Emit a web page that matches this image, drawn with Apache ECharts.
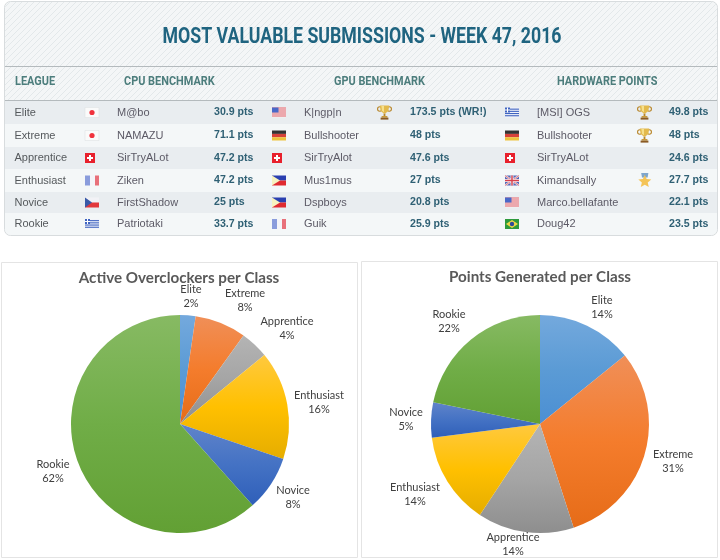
<!DOCTYPE html>
<html>
<head>
<meta charset="utf-8">
<title>Most Valuable Submissions</title>
<script src="https://cdn.jsdelivr.net/npm/echarts@6/dist/echarts.min.js"></script>
<style>
  html, body { margin: 0; padding: 0; background: #fff; }
  #chart { width: 720px; height: 560px; }
</style>
</head>
<body>
<div id="chart"></div>
<script>
// table content
const leagues = ['Elite', 'Extreme', 'Apprentice', 'Enthusiast', 'Novice', 'Rookie'];
const cpuFlags = ['jp', 'jp', 'ch', 'fr', 'cz', 'gr'];
const cpuNames = ['M@bo', 'NAMAZU', 'SirTryALot', 'Ziken', 'FirstShadow', 'Patriotaki'];
const cpuPts = ['30.9 pts', '71.1 pts', '47.2 pts', '47.2 pts', '25 pts', '33.7 pts'];
const gpuFlags = ['us', 'de', 'ch', 'ph', 'ph', 'fr'];
const gpuNames = ['K|ngp|n', 'Bullshooter', 'SirTryAlot', 'Mus1mus', 'Dspboys', 'Guik'];
const gpuAwards = ['cup', '', '', '', '', ''];
const gpuPts = ['173.5 pts (WR!)', '48 pts', '47.6 pts', '27 pts', '20.8 pts', '25.9 pts'];
const hwFlags = ['gr', 'de', 'ch', 'gb', 'us', 'br'];
const hwNames = ['[MSI] OGS', 'Bullshooter', 'SirTryALot', 'Kimandsally', 'Marco.bellafante', 'Doug42'];
const hwAwards = ['cup', 'cup', '', 'medal', '', ''];
const hwPts = ['49.8 pts', '48 pts', '24.6 pts', '27.7 pts', '22.1 pts', '23.5 pts'];

// pie values
const classes = ['Elite', 'Extreme', 'Apprentice', 'Enthusiast', 'Novice', 'Rookie'];
const activeShare = [2.3, 7.6, 4.2, 16.1, 8.2, 61.6];
const pointsShare = [14.2, 30.8, 14.3, 13.7, 5.2, 21.8];

// slice gradients, top to bottom
const sliceColors = [
  ['#74a9dd', '#5b9bd5', '#4b8fd3'],
  ['#f08f58', '#f47c2c', '#e66c18'],
  ['#b4b4b4', '#a5a5a5', '#8e8e8e'],
  ['#ffc93f', '#ffc000', '#e5ad00'],
  ['#6084ca', '#4472c4', '#2f5fb9'],
  ['#87ba63', '#70ad47', '#62a034']
];

// label anchors
const activeLabelPos = [[191, 296], [245, 300], [287, 328], [319, 402], [293, 497], [53, 471]];
const pointsLabelPos = [[602, 307], [673, 461], [513, 544], [415, 494], [406, 419], [449, 321]];

const rowTops = [101, 124, 147, 169, 192, 213, 235];
const rowFills = ['#e9edf0', '#f4f7f8', '#e9edf0', '#f4f7f8', '#e9edf0', '#f4f7f8'];
const bodyFont = '"Liberation Sans", Arial, sans-serif';
const headFont = 'Roboto, sans-serif';

function hatchPattern() {
  const c = document.createElement('canvas');
  c.width = 6;
  c.height = 6;
  const ctx = c.getContext('2d');
  ctx.fillStyle = '#f4f6f7';
  ctx.fillRect(0, 0, 6, 6);
  ctx.strokeStyle = '#e3e8ea';
  ctx.lineWidth = 1;
  ctx.beginPath();
  ctx.moveTo(-1, 1); ctx.lineTo(1, -1);
  ctx.moveTo(-1, 7); ctx.lineTo(7, -1);
  ctx.moveTo(5, 7); ctx.lineTo(7, 5);
  ctx.stroke();
  return { image: c, repeat: 'repeat' };
}

const rect = (x, y, width, height, fill) => ({
  type: 'rect', shape: { x, y, width, height }, style: { fill }
});
const poly = (points, fill) => ({ type: 'polygon', shape: { points }, style: { fill } });
const dot = (cx, cy, r, fill) => ({ type: 'circle', shape: { cx, cy, r }, style: { fill } });
const bar = (x1, y1, x2, y2, stroke, lineWidth) => ({
  type: 'line', shape: { x1, y1, x2, y2 }, style: { stroke, lineWidth }
});

// little 14x10 flags
function flagParts(code) {
  switch (code) {
    case 'jp':
      return [
        { type: 'rect', shape: { x: 0, y: 0, width: 14, height: 10 }, style: { fill: '#fafafa', stroke: '#dfe2e4', lineWidth: 0.6 } },
        dot(7, 5, 2.6, '#f0323c')
      ];
    case 'ch':
      return [rect(0, 0, 10, 10, '#e8202c'), rect(4, 2, 2, 6, '#fff'), rect(2, 4, 6, 2, '#fff')];
    case 'fr':
      return [rect(0, 0, 5, 10, '#8a9cdc'), rect(5, 0, 5, 10, '#f4f4f8'), rect(10, 0, 4, 10, '#e8707a')];
    case 'de':
      return [rect(0, 0, 14, 3.4, '#333'), rect(0, 3.4, 14, 3.3, '#d6423a'), rect(0, 6.7, 14, 3.3, '#eec23c')];
    case 'cz':
      return [rect(0, 0, 14, 5, '#f2f2f6'), rect(0, 5, 14, 5, '#e2383c'), poly([[0, 0], [7, 5], [0, 10]], '#3a5aa8')];
    case 'ph':
      return [rect(0, 0, 14, 5, '#2a3fb0'), rect(0, 5, 14, 5, '#e02a30'), poly([[0, 0], [8, 5], [0, 10]], '#f6f2c0')];
    case 'gr': {
      const parts = [rect(0, 0, 14, 10, '#f2f4fa')];
      [1.1, 3.3, 5.5, 7.7].forEach(y => parts.push(rect(0, y, 14, 1.1, '#3f63c0')));
      parts.push(rect(0, 0, 5, 5, '#3f63c0'), rect(2, 0, 1, 5, '#fff'), rect(0, 2, 5, 1, '#fff'));
      return parts;
    }
    case 'us': {
      const parts = [rect(0, 0, 14, 10, '#f4f0f0')];
      [0, 2, 4, 6, 8].forEach(y => parts.push(rect(0, y, 14, 1, '#e4606a')));
      parts.push(rect(0, 0, 6.5, 5, '#4a68c8'));
      return parts;
    }
    case 'gb':
      return [
        rect(0, 0, 14, 10, '#5468b8'),
        bar(0, 0, 14, 10, '#f2e8ec', 2), bar(14, 0, 0, 10, '#f2e8ec', 2),
        bar(0, 0, 14, 10, '#d8505c', 0.7), bar(14, 0, 0, 10, '#d8505c', 0.7),
        rect(5.5, 0, 3, 10, '#f2e8ec'), rect(0, 3.5, 14, 3, '#f2e8ec'),
        rect(6.3, 0, 1.4, 10, '#d8404c'), rect(0, 4.3, 14, 1.4, '#d8404c')
      ];
    case 'br':
      return [rect(0, 0, 14, 10, '#2e9a3c'), poly([[7, 1], [13, 5], [7, 9], [1, 5]], '#f0d848'), dot(7, 5, 2.2, '#2f4c98')];
  }
  return [];
}

function flag(code, x, rowMid) {
  return { type: 'group', x, y: rowMid - 5, children: flagParts(code) };
}

function cup(x, rowMid) {
  return {
    type: 'group', x, y: rowMid - 7.5,
    children: [
      { type: 'ring', shape: { cx: 2.8, cy: 4, r: 2.8, r0: 1.7 }, style: { fill: '#b8862a' } },
      { type: 'ring', shape: { cx: 12.2, cy: 4, r: 2.8, r0: 1.7 }, style: { fill: '#b8862a' } },
      poly([[2.8, 0.4], [12.2, 0.4], [11.4, 5.8], [8.4, 8.6], [6.6, 8.6], [3.6, 5.8]], '#e3ba4c'),
      poly([[4.4, 1], [7, 1], [7, 7.4], [5, 5.4]], '#f6e08c'),
      rect(6.6, 8.6, 1.8, 2.4, '#b8862a'),
      rect(4.6, 11, 5.8, 1.6, '#c99a3a'),
      rect(3.6, 12.6, 7.8, 2, '#8a5a24')
    ]
  };
}

function medal(x, rowMid) {
  const star = [];
  for (let i = 0; i < 10; i++) {
    const r = i % 2 ? 3.1 : 6.8;
    const a = Math.PI * i / 5;
    star.push([6.8 + r * Math.sin(a), 8.6 - r * Math.cos(a)]);
  }
  return {
    type: 'group', x, y: rowMid - 7.5,
    children: [poly([[3.2, 0], [10.4, 0], [9.6, 4.5], [4, 4.5]], '#7fa6cc'), poly(star, '#f4c458')]
  };
}

function cell(text, x, y, opts, scaleX) {
  return {
    type: 'text', x, y, scaleX: scaleX || 1,
    style: Object.assign({
      text, fill: '#55595c', font: '11px ' + bodyFont,
      textAlign: 'left', textVerticalAlign: 'middle'
    }, opts || {})
  };
}

const boldPts = { fill: '#2f6074', font: 'bold 10.6px ' + bodyFont };
const nameText = { fill: '#5c5a66' };
const headText = { fill: '#4c7d7c', font: 'bold 13px ' + headFont };
const headSqueeze = 0.84;

const tableGraphics = [
  { type: 'rect', shape: { x: 4.5, y: 1.5, width: 713, height: 234, r: 6 }, style: { fill: '#f4f6f7', stroke: '#d8dcde', lineWidth: 1 } },
  { type: 'rect', shape: { x: 5, y: 2, width: 712, height: 98, r: [6, 6, 0, 0] }, style: { fill: hatchPattern() } },
  rect(5, 66, 712, 1, '#b4babd'),
  rect(5, 100, 712, 1, '#b4babd'),
  cell('MOST VALUABLE SUBMISSIONS - WEEK 47, 2016', 362, 37, {
    fill: '#1f6480', font: 'bold 22px ' + headFont, textAlign: 'center'
  }, 0.806),
  cell('LEAGUE', 15, 82, headText, headSqueeze),
  cell('CPU BENCHMARK', 124, 82, headText, headSqueeze),
  cell('GPU BENCHMARK', 334, 82, headText, headSqueeze),
  cell('HARDWARE POINTS', 557, 82, headText, headSqueeze)
];

leagues.forEach((name, i) => {
  const top = rowTops[i];
  const mid = (top + rowTops[i + 1]) / 2;
  tableGraphics.push(
    { type: 'rect', shape: { x: 5, y: top, width: 712, height: rowTops[i + 1] - top, r: i === 5 ? [0, 0, 6, 6] : 0 }, style: { fill: rowFills[i] } },
    cell(name, 14.5, mid),
    flag(cpuFlags[i], 85, mid),
    cell(cpuNames[i], 117, mid, nameText),
    cell(cpuPts[i], 214, mid, boldPts),
    flag(gpuFlags[i], 272, mid),
    cell(gpuNames[i], 304, mid, nameText),
    cell(gpuPts[i], 410, mid, boldPts),
    flag(hwFlags[i], 505, mid),
    cell(hwNames[i], 537, mid, nameText),
    cell(hwPts[i], 669, mid, boldPts)
  );
  if (gpuAwards[i] === 'cup') tableGraphics.push(cup(377, mid));
  if (hwAwards[i] === 'cup') tableGraphics.push(cup(637, mid));
  if (hwAwards[i] === 'medal') tableGraphics.push(medal(638, mid));
});

const panelGraphics = [
  { type: 'rect', shape: { x: 1.5, y: 262.5, width: 356, height: 295 }, style: { fill: '#fff', stroke: '#e4e4e4', lineWidth: 1 } },
  { type: 'rect', shape: { x: 361.5, y: 261.5, width: 356, height: 296 }, style: { fill: '#fff', stroke: '#e4e4e4', lineWidth: 1 } }
];

function pieSeries(name, values, centerX, labelPos) {
  return {
    type: 'pie',
    name,
    center: [centerX, 424],
    radius: [0, 109],
    startAngle: 90,
    clockwise: true,
    percentPrecision: 0,
    animation: false,
    avoidLabelOverlap: false,
    silent: true,
    labelLine: { show: false },
    label: {
      show: true,
      position: 'outside',
      formatter: '{b}\n{d}%',
      fontFamily: 'Lato, "Open Sans", sans-serif',
      fontSize: 11,
      lineHeight: 14,
      color: '#404040',
      align: 'center'
    },
    labelLayout: p => ({
      x: labelPos[p.dataIndex][0],
      y: labelPos[p.dataIndex][1],
      align: 'center',
      verticalAlign: 'middle'
    }),
    data: classes.map((c, i) => ({
      name: c,
      value: values[i],
      itemStyle: {
        color: new echarts.graphic.LinearGradient(0, 0, 0, 1, [
          { offset: 0, color: sliceColors[i][0] },
          { offset: 0.5, color: sliceColors[i][1] },
          { offset: 1, color: sliceColors[i][2] }
        ])
      }
    }))
  };
}

const pieTitle = {
  fontFamily: 'Lato, "Open Sans", sans-serif',
  fontWeight: 'bold',
  fontSize: 15.2,
  color: '#595959'
};

const chart = echarts.init(document.getElementById('chart'), null, { renderer: 'canvas' });
chart.setOption({
  animation: false,
  backgroundColor: '#fff',
  title: [
    { text: 'Active Overclockers per Class', left: 179, top: 271, textAlign: 'center', padding: 0, textStyle: pieTitle },
    { text: 'Points Generated per Class', left: 540, top: 270, textAlign: 'center', padding: 0, textStyle: pieTitle }
  ],
  graphic: { elements: panelGraphics.concat(tableGraphics) },
  series: [
    pieSeries('Active Overclockers per Class', activeShare, 180, activeLabelPos),
    pieSeries('Points Generated per Class', pointsShare, 540, pointsLabelPos)
  ]
});
</script>
</body>
</html>
